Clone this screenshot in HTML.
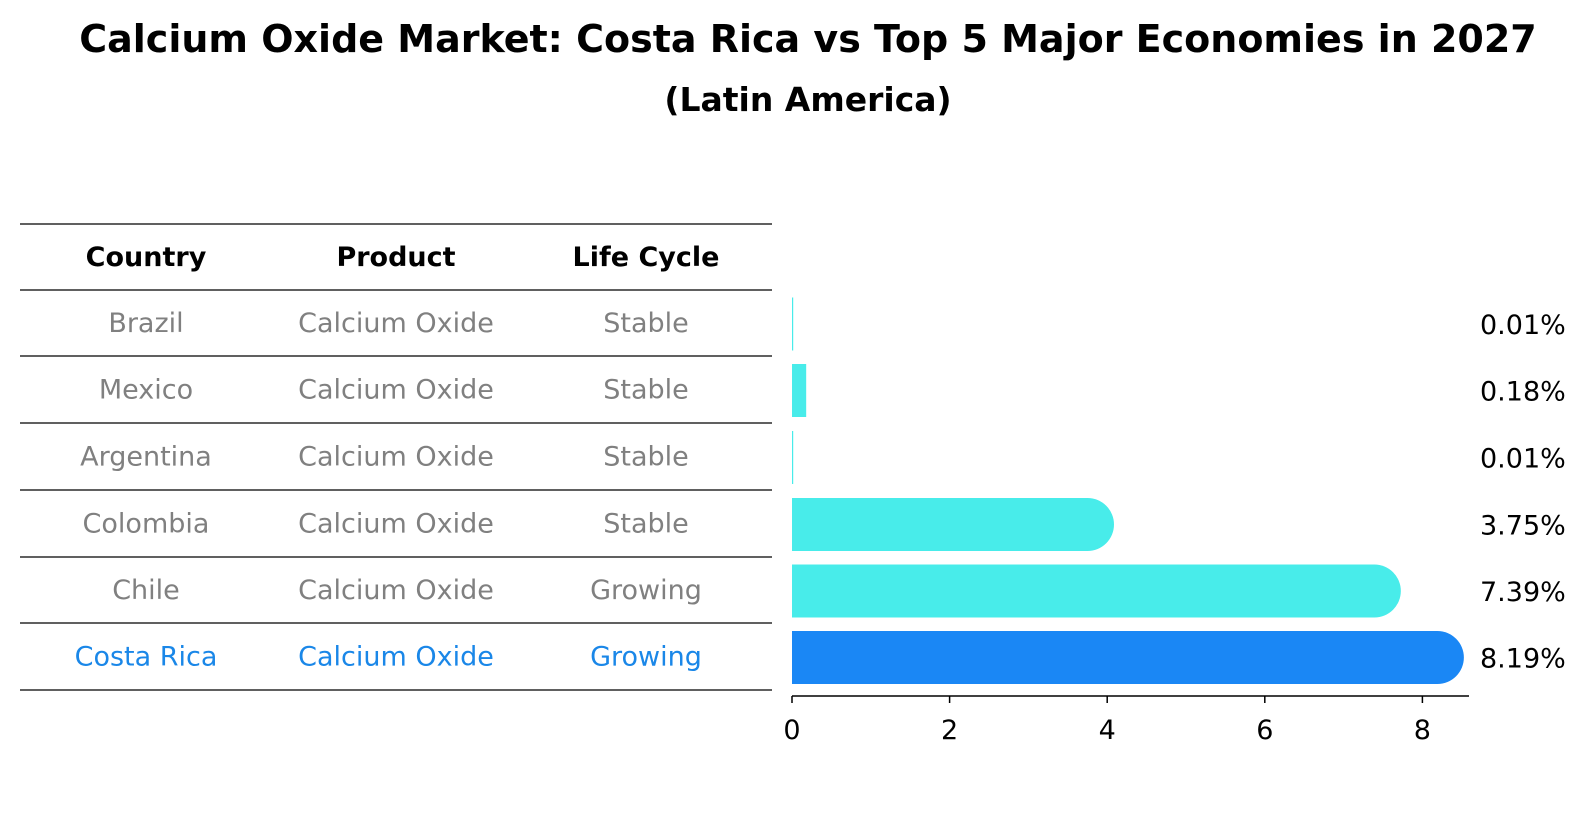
<!DOCTYPE html>
<html><head><meta charset="utf-8"><style>
body{margin:0;background:#fff;font-family:"Liberation Sans","DejaVu Sans",sans-serif;}
svg text{font-family:"DejaVu Sans","Liberation Sans",sans-serif;}
</style></head><body>
<svg id="c" width="1586" height="823" viewBox="0 0 1586 823" xmlns="http://www.w3.org/2000/svg">
<rect width="1586" height="823" fill="#fff"/>
<text x="808" y="52" text-anchor="middle" font-size="38" font-weight="bold">Calcium Oxide Market: Costa Rica vs Top 5 Major Economies in 2027</text>
<text x="808" y="111" text-anchor="middle" font-size="33" font-weight="bold">(Latin America)</text>
<g id="table"></g>
<g id="bars"></g>
</svg>
<script>
const countries=["Brazil","Mexico","Argentina","Colombia","Chile","Costa Rica"];
const products=["Calcium Oxide","Calcium Oxide","Calcium Oxide","Calcium Oxide","Calcium Oxide","Calcium Oxide"];
const lifeCycles=["Stable","Stable","Stable","Stable","Growing","Growing"];
const values=[0.01,0.18,0.01,3.75,7.39,8.19];
const valueLabels=["0.01%","0.18%","0.01%","3.75%","7.39%","8.19%"];
const ticks=[0,2,4,6,8];

const NS="http://www.w3.org/2000/svg";
function mk(t,a,p){const e=document.createElementNS(NS,t);for(const k in a)e.setAttribute(k,a[k]);p.appendChild(e);return e;}
const tbl=document.getElementById('table'), bars=document.getElementById('bars');
const lineYs=[224,290,356,423,490,557,623,690];
const colX=[146,396,646];
const rowY=i=>(lineYs[i+1]+lineYs[i+2])/2;
lineYs.forEach((y,i)=>{const l=mk('line',{x1:20,x2:772,y1:y,y2:y,stroke:'#000','stroke-width':1.2},tbl);

});
["Country","Product","Life Cycle"].forEach((h,j)=>{const t=mk('text',{x:colX[j],y:(lineYs[0]+lineYs[1])/2+9,'text-anchor':'middle','font-size':27,'font-weight':'bold'},tbl);t.textContent=h;

});
countries.forEach((c,i)=>{const col=i===countries.length-1?'#1a87e8':'#808080';
[c,products[i],lifeCycles[i]].forEach((v,j)=>{const t=mk('text',{x:colX[j],y:rowY(i)+9,'text-anchor':'middle','font-size':27,fill:col},tbl);t.textContent=v;

});});
const x0=792,ppu=78.8,xs=v=>x0+v*ppu,bh=53,r=bh/2;
values.forEach((v,i)=>{const cy=rowY(i)+1;const col=i===values.length-1?'#1a87f5':'#48ecea';
const w=xs(v)-x0;let d;
if(v<0.5){d=`M${x0},${cy-r}h${Math.max(w,1.2)}v${bh}h${-Math.max(w,1.2)}z`;}
else d=`M${x0},${cy-r}h${w}a${r},${r} 0 0 1 0,${bh}h${-w}z`;
const b=mk('path',{d:d,fill:col},bars);


const t=mk('text',{x:1480,y:cy+10,'font-size':27},bars);t.textContent=valueLabels[i];

});
const ax=mk('line',{x1:x0,x2:1469,y1:696,y2:696,stroke:'#000','stroke-width':1.5},bars);


ticks.forEach(tv=>{const l=mk('line',{x1:xs(tv),x2:xs(tv),y1:696,y2:703,stroke:'#000','stroke-width':1.5},bars);


const t=mk('text',{x:xs(tv),y:739,'text-anchor':'middle','font-size':27},bars);t.textContent=tv;

});
</script>
</body></html>
